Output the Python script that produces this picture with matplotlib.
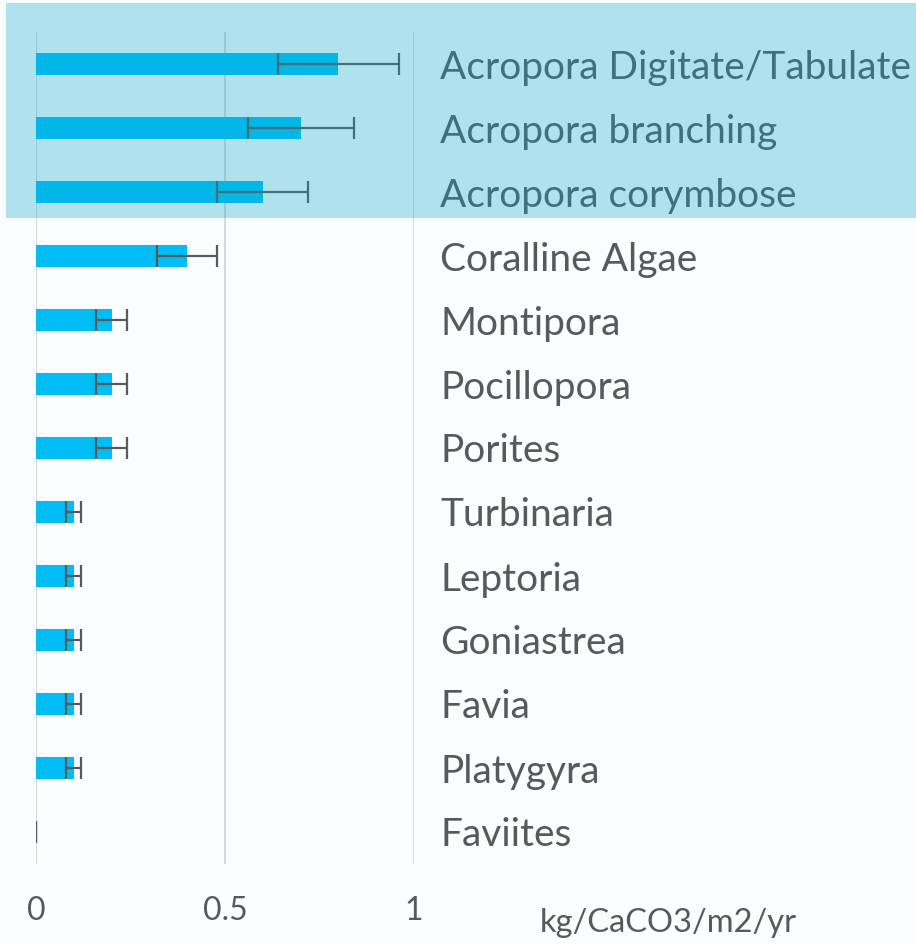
import matplotlib.pyplot as plt
from matplotlib.patches import Rectangle

# categories top to bottom
labels = ['Acropora Digitate/Tabulate', 'Acropora branching', 'Acropora corymbose',
          'Coralline Algae', 'Montipora', 'Pocillopora', 'Porites', 'Turbinaria',
          'Leptoria', 'Goniastrea', 'Favia', 'Platygyra', 'Faviites']
values = [0.8, 0.7, 0.6, 0.4, 0.2, 0.2, 0.2, 0.1, 0.1, 0.1, 0.1, 0.1, 0.0]
errors = [0.16, 0.14, 0.12, 0.08, 0.04, 0.04, 0.04, 0.02, 0.02, 0.02, 0.02, 0.02, 0.0]
xticks = [0, 0.5, 1]
xtick_labels = ['0', '0.5', '1']
unit = 'kg/CaCO3/m2/yr'

plt.rcParams['font.family'] = ['Lato', 'DejaVu Sans']
txt = '#595959'
bg = '#FAFDFF'

fig = plt.figure(figsize=(9.16, 9.44), dpi=100, facecolor=bg)
ax = fig.add_axes([36 / 916, 80 / 944, 378 / 916, 832 / 944])
ax.set_facecolor(bg)

pos = list(range(len(labels)))
ax.barh(pos, values, height=0.35, color='#00BEF5', xerr=errors,
        error_kw=dict(ecolor='#595959', elinewidth=1.6, capsize=8, capthick=1.6),
        zorder=3)

ax.set_xlim(0, 1)
ax.set_ylim(len(labels) - 0.5, -0.5)
ax.set_xticks(xticks)
ax.set_xticklabels(xtick_labels)
ax.set_yticks(pos)
ax.set_yticklabels(labels)
ax.yaxis.tick_right()
ax.tick_params(axis='y', length=0, pad=19, labelsize=28, labelcolor=txt)
ax.tick_params(axis='x', length=0, pad=23, labelsize=23, labelcolor=txt)
ax.grid(axis='x', color='#D9D9D9', linewidth=1.5, zorder=0)
for s in ax.spines.values():
    s.set_visible(False)

fig.text(540 / 916, 12 / 944, unit, fontsize=23.5, color=txt, ha='left', va='baseline')

# translucent highlight band over the top three rows
fig.add_artist(Rectangle((6 / 916, 1 - 218 / 944), 910 / 916, 215 / 944,
                         transform=fig.transFigure, facecolor=(7 / 255, 166 / 255, 200 / 255),
                         alpha=0.3, edgecolor='none', zorder=10))

fig.savefig('out.png', dpi=100, facecolor=bg)
